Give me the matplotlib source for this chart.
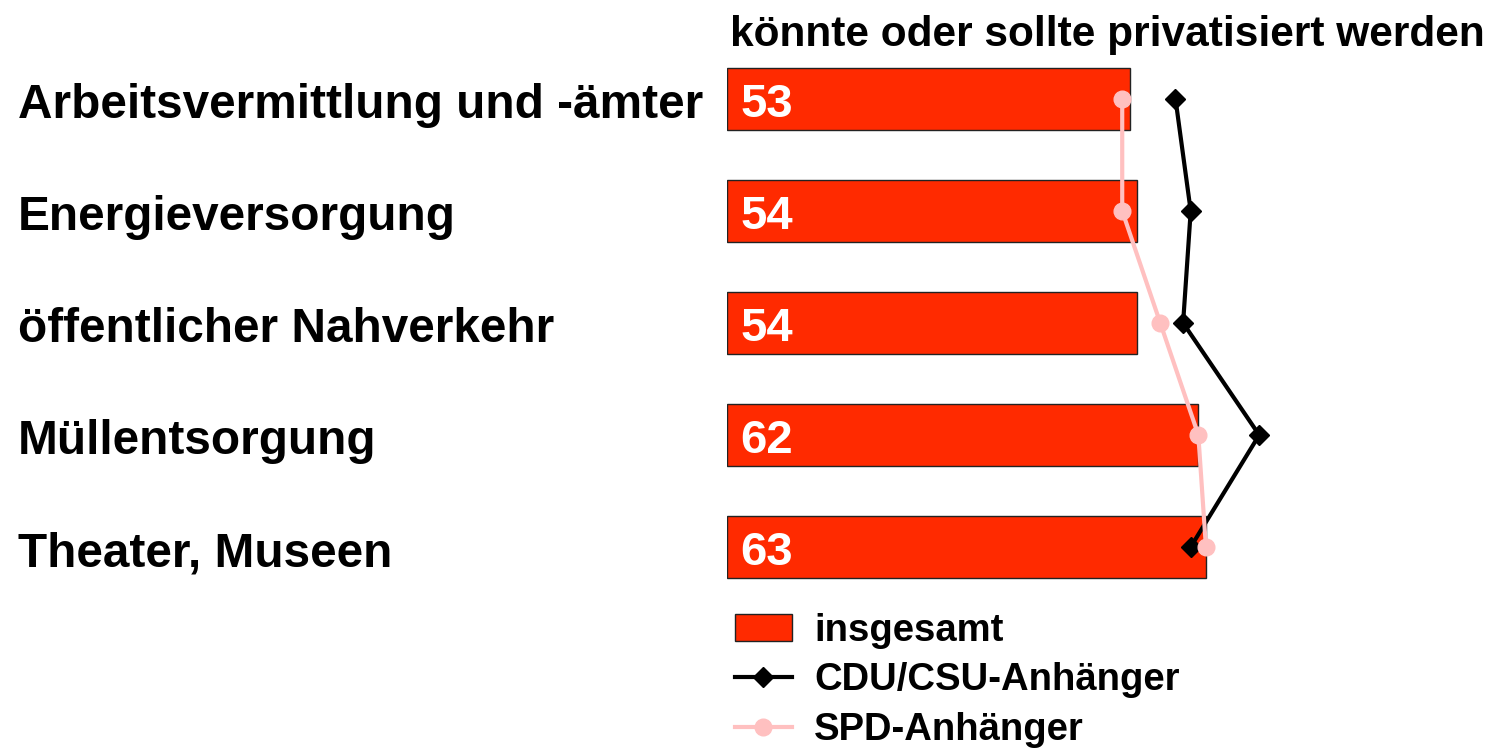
import matplotlib
matplotlib.use("Agg")
import matplotlib.pyplot as plt
from matplotlib.patches import Patch
from matplotlib.lines import Line2D

plt.rcParams['font.family'] = ['Liberation Sans', 'DejaVu Sans']
plt.rcParams['font.weight'] = 'bold'

categories = ['Arbeitsvermittlung und -ämter', 'Energieversorgung',
              'öffentlicher Nahverkehr', 'Müllentsorgung', 'Theater, Museen']
insgesamt = [53, 54, 54, 62, 63]
cdu_csu = [59, 61, 60, 70, 61]
spd = [52, 52, 57, 62, 63]

title = 'könnte oder sollte privatisiert werden'
legend_labels = ['insgesamt', 'CDU/CSU-Anhänger', 'SPD-Anhänger']

bar_red = '#ff2a00'
spd_pink = '#ffc0c0'

fig = plt.figure(figsize=(14.93, 7.49), dpi=100)
ax = fig.add_axes([726.5 / 1493, 1 - 603 / 749, 761 / 1493, 560 / 749])

ypos = list(range(len(categories)))
ax.barh(ypos, insgesamt, height=0.55, color=bar_red, edgecolor='#222222', linewidth=1)
ax.plot(cdu_csu, ypos, color='black', lw=3, marker='D', ms=10, zorder=3)
ax.plot(spd, ypos, color=spd_pink, lw=3, marker='o', ms=12, zorder=4)

# Zahlen in den Balken
for y, v in zip(ypos, insgesamt):
    ax.text(740 / 1493, 1 - (117 + 112 * y) / 749, str(v),
            transform=fig.transFigure, color='white', fontsize=34,
            fontweight='bold', va='baseline', ha='left', zorder=5)

# Kategorien links
for y, c in zip(ypos, categories):
    fig.text(18 / 1493, 1 - (118 + 112 * y) / 749, c,
             fontsize=34.4, fontweight='bold', va='baseline', ha='left')

fig.text(730 / 1493, 1 - 46 / 749, title, fontsize=30.5, fontweight='bold',
         va='baseline', ha='left')

ax.set_xlim(0, 100)
ax.set_ylim(len(categories) - 0.5, -0.5)
ax.axis('off')

handles = [Patch(facecolor=bar_red, edgecolor='#222222'),
           Line2D([], [], color='black', lw=3, marker='D', ms=10),
           Line2D([], [], color=spd_pink, lw=3, marker='o', ms=12)]
fig.legend(handles, legend_labels, loc='upper left',
           bbox_to_anchor=(727 / 1493, 1 - 605 / 749), frameon=False,
           fontsize=27.5, handlelength=1.5, handleheight=0.7, handletextpad=0.58,
           labelspacing=0.36, borderpad=0.2, borderaxespad=0)

fig.savefig('out.png', dpi=100)
